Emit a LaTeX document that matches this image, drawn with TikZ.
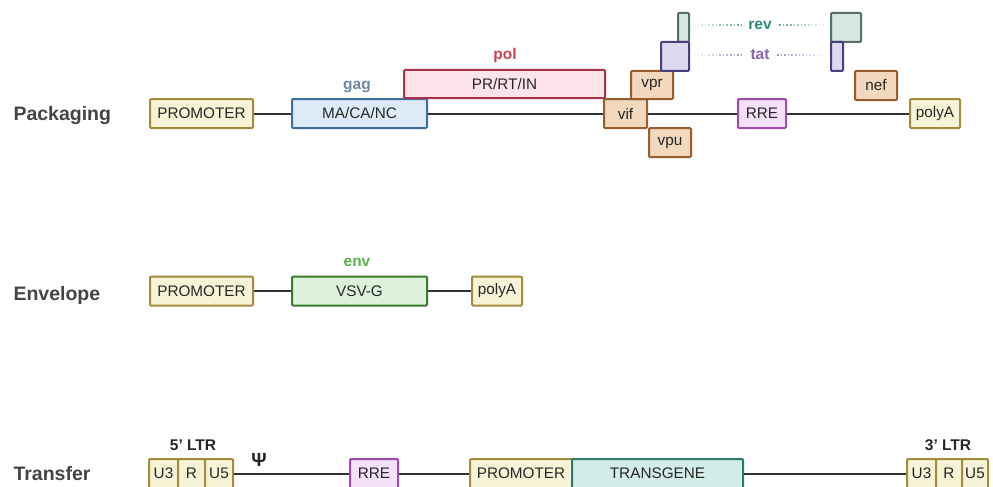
\documentclass[tikz,border=0pt]{standalone}
\usepackage{fontspec}
\setmainfont{Liberation Sans}
\usetikzlibrary{fadings}
\definecolor{promfill}{HTML}{F6F3D6}
\definecolor{promdraw}{HTML}{A38B3C}
\definecolor{gagfill}{HTML}{DDEBF8}
\definecolor{gagdraw}{HTML}{3F6E9E}
\definecolor{polfill}{HTML}{FCE4EA}
\definecolor{poldraw}{HTML}{A8334F}
\definecolor{accfill}{HTML}{F2D9BE}
\definecolor{accdraw}{HTML}{995C2C}
\definecolor{rrefill}{HTML}{F4E0F8}
\definecolor{rredraw}{HTML}{A14BB2}
\definecolor{revfill}{HTML}{D6E6E1}
\definecolor{revdraw}{HTML}{566F69}
\definecolor{tatfill}{HTML}{DCD9F1}
\definecolor{tatdraw}{HTML}{483F80}
\definecolor{envfill}{HTML}{DDF2DA}
\definecolor{envdraw}{HTML}{3D7A2E}
\definecolor{tgfill}{HTML}{D4ECE7}
\definecolor{tgdraw}{HTML}{2C7A6B}
\definecolor{gagtxt}{HTML}{6E86A6}
\definecolor{poltxt}{HTML}{D0414F}
\definecolor{envtxt}{HTML}{5CB04A}
\definecolor{revtxt}{HTML}{2A8A78}
\definecolor{tattxt}{HTML}{8A62B2}
\definecolor{rowtxt}{HTML}{444444}
\begin{document}
\begin{tikzpicture}[x=1pt,y=-1pt,
  seg/.style={draw,line width=2pt,rounded corners=1pt,inner sep=0pt,
    minimum height=29pt,text=black!85,font=\fontsize{15.3}{17}\selectfont},
  prom/.style={seg,fill=promfill,draw=promdraw},
  acc/.style={seg,fill=accfill,draw=accdraw},
  genename/.style={font=\fontsize{15.5}{17}\selectfont\bfseries},
  rowname/.style={anchor=west,text=rowtxt,font=\fontsize{19.5}{21}\selectfont\bfseries},
  backbone/.style={line width=2pt,black!80},
  trail/.style={line width=2pt,dash pattern=on 1.6pt off 2pt,shorten <=4pt,shorten >=4pt}]
  \useasboundingbox (0,0) rectangle (993,487);
  % Packaging plasmid
  \node[rowname] (packlbl) at (10,116) {Packaging};
  \node[prom,minimum width=103pt] (pprom) at (201.5,113.5) {PROMOTER};
  \node[seg,fill=gagfill,draw=gagdraw,minimum width=135pt] (pgag) at (359.5,113.5) {MA/CA/NC};
  \node[genename,text=gagtxt] (gaglbl) at (357,87) {gag};
  \node[seg,fill=polfill,draw=poldraw,minimum width=201pt,minimum height=28pt] (ppol) at (504.5,84) {PR/RT/IN};
  \node[genename,text=poltxt] (pollbl) at (505,55) {pol};
  \node[acc,minimum width=43pt] (pvif) at (625.5,113.5) {vif};
  \node[acc,minimum width=42pt,minimum height=28pt] (pvpr) at (652,85) {vpr};
  \node[acc,minimum width=42pt] (pvpu) at (670,142.5) {vpu};
  \node[acc,minimum width=42pt] (pnef) at (876,85.5) {nef};
  \node[seg,fill=rrefill,draw=rredraw,minimum width=48pt] (prre) at (762,113.5) {RRE};
  \node[prom,minimum width=50pt] (ppolya) at (935,113.5) {polyA};
  % rev and tat exons
  \node[seg,fill=revfill,draw=revdraw,minimum width=11pt] (reva) at (683.5,27.5) {};
  \node[seg,fill=tatfill,draw=tatdraw,minimum width=28pt] (tata) at (675,56.5) {};
  \node[seg,fill=revfill,draw=revdraw,minimum width=30pt] (revb) at (846,27.5) {};
  \node[seg,fill=tatfill,draw=tatdraw,minimum width=12pt] (tatb) at (837,56.5) {};
  \node[genename,text=revtxt] (revlbl) at (760,25) {rev};
  \node[genename,text=tattxt] (tatlbl) at (760,55) {tat};
  \draw[trail,revtxt!80,path fading=west] (reva.east |- revlbl.west) -- (revlbl.west);
  \draw[trail,revtxt!80,path fading=east] (revlbl.east) -- (revb.west |- revlbl.east);
  \draw[trail,tattxt!80,path fading=west] (tata.east |- tatlbl.west) -- (tatlbl.west);
  \draw[trail,tattxt!80,path fading=east] (tatlbl.east) -- (tatb.west |- tatlbl.east);
  \draw[backbone] (pprom.east) -- (pgag.west);
  \draw[backbone] (pgag.east) -- (pvif.west);
  \draw[backbone] (pvif.east) -- (prre.west);
  \draw[backbone] (prre.east) -- (ppolya.west);
  % Envelope plasmid
  \node[rowname] (envrow) at (10,295) {Envelope};
  \node[prom,minimum width=103pt] (eprom) at (201.5,291) {PROMOTER};
  \node[seg,fill=envfill,draw=envdraw,minimum width=135pt] (evsvg) at (359.5,291) {VSV-G};
  \node[genename,text=envtxt] (envlbl) at (357,262) {env};
  \node[prom,minimum width=50pt] (epolya) at (497,291) {polyA};
  \draw[backbone] (eprom.east) -- (evsvg.west);
  \draw[backbone] (evsvg.east) -- (epolya.west);
  % Transfer plasmid
  \node[rowname] (tranrow) at (10,474) {Transfer};
  \node[prom,minimum width=29pt] (tua) at (163.5,473.5) {U3};
  \node[prom,minimum width=27pt] (tra) at (191.5,473.5) {R};
  \node[prom,minimum width=28pt] (tva) at (219,473.5) {U5};
  \node[genename,text=black!85] (ltra) at (193,445) {5{\char"27} LTR};
  \node[font=\fontsize{19}{20}\selectfont\bfseries,text=black!85] (psi) at (259,460) {Ψ};
  \node[seg,fill=rrefill,draw=rredraw,minimum width=48pt] (trre) at (374,473.5) {RRE};
  \node[prom,minimum width=102pt] (tprom) at (521,473.5) {PROMOTER};
  \node[seg,fill=tgfill,draw=tgdraw,minimum width=171pt] (tgene) at (657.5,473.5) {TRANSGENE};
  \node[prom,minimum width=29pt] (tub) at (921.5,473.5) {U3};
  \node[prom,minimum width=26pt] (trb) at (949,473.5) {R};
  \node[prom,minimum width=26pt] (tvb) at (975,473.5) {U5};
  \node[genename,text=black!85] (ltrb) at (948,445) {3{\char"27} LTR};
  \draw[backbone] (tva.east) -- (trre.west);
  \draw[backbone] (trre.east) -- (tprom.west);
  \draw[backbone] (tgene.east) -- (tub.west);
\end{tikzpicture}
\end{document}
